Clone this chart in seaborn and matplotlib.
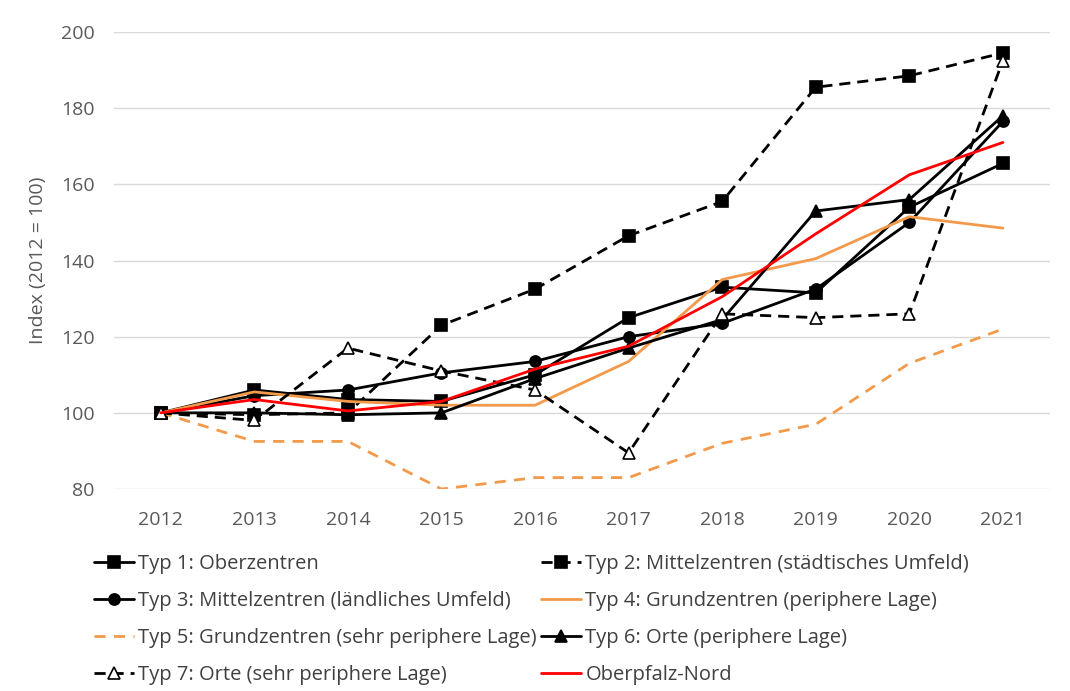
import seaborn as sns
import matplotlib.pyplot as plt
import pandas as pd

years = [2012, 2013, 2014, 2015, 2016, 2017, 2018, 2019, 2020, 2021]

typ1 = [100, 106, 103.5, 103, 110, 125, 133, 131.5, 154, 165.5]
typ2 = [100, 99.5, 100, 123, 132.5, 146.5, 155.5, 185.5, 188.5, 194.5]
typ3 = [100, 104.5, 106, 110.5, 113.5, 120, 123.5, 132.5, 150, 176.5]
typ4 = [100, 105.5, 103, 102, 102, 113.5, 135, 140.5, 151.5, 148.5]
typ5 = [100, 92.5, 92.5, 80, 83, 83, 92, 97, 113, 122]
typ6 = [100, 100, 99.5, 100, 109, 117, 124.5, 153, 156, 178]
typ7 = [100, 98, 117, 111, 106, 89.5, 126, 125, 126, 192.5]
oberpfalz = [100, 103.5, 100.5, 103, 111.5, 117.5, 130.5, 147, 162.5, 171]

labels = [
    "Typ 1: Oberzentren",
    "Typ 2: Mittelzentren (städtisches Umfeld)",
    "Typ 3: Mittelzentren (ländliches Umfeld)",
    "Typ 4: Grundzentren (periphere Lage)",
    "Typ 5: Grundzentren (sehr periphere Lage)",
    "Typ 6: Orte (periphere Lage)",
    "Typ 7: Orte (sehr periphere Lage)",
    "Oberpfalz-Nord",
]

sns.set_style("white")
plt.rcParams['font.family'] = ['Open Sans', 'DejaVu Sans']

orange = "#F29A4A"
styles = [
    (typ1, dict(color="black", marker="s", ls="-")),
    (typ2, dict(color="black", marker="s", ls=(0, (4, 2.5)))),
    (typ3, dict(color="black", marker="o", ls="-")),
    (typ4, dict(color=orange, marker=None, ls="-")),
    (typ5, dict(color=orange, marker=None, ls=(0, (4, 3)))),
    (typ6, dict(color="black", marker="^", ls="-")),
    (typ7, dict(color="black", marker="^", ls=(0, (4, 2.5)), markerfacecolor="white")),
    (oberpfalz, dict(color="red", marker=None, ls="-")),
]

fig = plt.figure(figsize=(10.7, 6.91), dpi=100)
ax = fig.add_axes([0.1065, 0.2923, 0.8745, 0.6614])

for (vals, st), lab in zip(styles, labels):
    df = pd.DataFrame({"Jahr": years, "Index": vals})
    sns.lineplot(data=df, x="Jahr", y="Index", ax=ax, label=lab,
                 color=st["color"], marker=st["marker"], linestyle=st["ls"],
                 linewidth=2.0, markersize=8,
                 markerfacecolor=st.get("markerfacecolor", st["color"]),
                 markeredgecolor="black", markeredgewidth=1.2)

ax.set_xlim(2011.5, 2021.5)
ax.set_ylim(80, 200)
ax.set_xticks(years)
ax.set_yticks(range(80, 201, 20))
ax.grid(axis="y", color="#d9d9d9", linewidth=1)
ax.grid(axis="x", visible=False)
for s in ax.spines.values():
    s.set_visible(False)
ax.tick_params(axis="both", length=0, labelsize=14, colors="#595959")
ax.tick_params(axis="x", pad=16)
ax.tick_params(axis="y", pad=14)
ax.set_xlabel("")
ax.set_ylabel("Index (2012 = 100)", fontsize=14, color="#595959", labelpad=10)

handles, labs = ax.get_legend_handles_labels()
order = [0, 2, 4, 6, 1, 3, 5, 7]
ax.legend([handles[i] for i in order], [labs[i] for i in order],
          ncol=2, loc="upper left", bbox_to_anchor=(0.088, 0.198),
          bbox_transform=fig.transFigure, frameon=False, fontsize=14.5,
          handlelength=2.0, handletextpad=0.2, columnspacing=0.2,
          labelspacing=0.84, borderpad=0, borderaxespad=0, labelcolor="#404040")

fig.savefig("out.png", dpi=100)
